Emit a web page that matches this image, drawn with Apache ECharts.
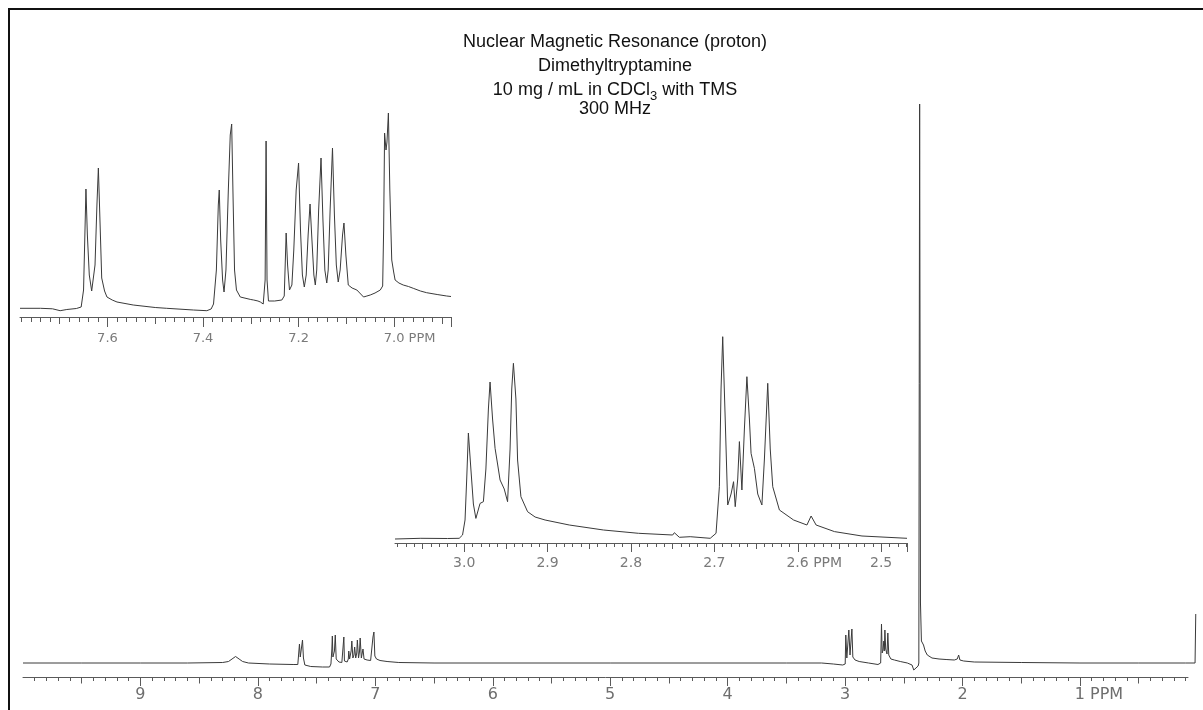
<!DOCTYPE html>
<html>
<head>
<meta charset="utf-8">
<title>Dimethyltryptamine 1H NMR</title>
<script src="https://cdn.jsdelivr.net/npm/echarts@6/dist/echarts.min.js"></script>
<style>
  html, body { margin: 0; padding: 0; background: #ffffff; }
  #chart { width: 1203px; height: 710px; }
</style>
</head>
<body>
<div id="chart"></div>
<script>
// ---- Spectrum traces: [chemical shift (ppm), intensity (a.u.)] ----

// Full spectrum, 10 - 0 ppm
const fullSpectrum = [
  [10.00, 0], [9.50, 0], [9.00, 0], [8.60, 0], [8.30, 0.5], [8.25, 1.5], [8.22, 4], [8.19, 6.5],
  [8.16, 4], [8.13, 1.5], [8.08, 0], [7.90, -1], [7.70, -1.5], [7.66, -1.5],
  [7.652, 0], [7.646, 19], [7.639, 6], [7.631, 8], [7.620, 23], [7.612, 5], [7.600, -2],
  [7.550, -3.5], [7.450, -4], [7.390, -4],
  [7.378, -1], [7.370, 14], [7.366, 27], [7.361, 6], [7.348, 12], [7.341, 28], [7.333, 4],
  [7.310, 1], [7.285, 0.5], [7.272, 2], [7.268, 26], [7.263, 2], [7.240, 1],
  [7.230, 4], [7.226, 12], [7.219, 4], [7.206, 12], [7.200, 22], [7.191, 5], [7.182, 8],
  [7.176, 16], [7.167, 5], [7.158, 10], [7.153, 23], [7.143, 5], [7.135, 11], [7.129, 25],
  [7.119, 5], [7.110, 7], [7.105, 14], [7.096, 4], [7.070, 3], [7.040, 2.5], [7.025, 3.5],
  [7.020, 26], [7.012, 31], [7.004, 7], [6.990, 4], [6.960, 2.5], [6.900, 1.5], [6.800, 0.5],
  [6.500, 0], [5.000, 0], [3.500, 0], [3.200, 0], [3.100, -1], [3.020, -2],
  [2.999, -1], [2.994, 28], [2.985, 5], [2.968, 33], [2.958, 8], [2.942, 34], [2.934, 6],
  [2.915, 3], [2.880, 1.5], [2.800, 0], [2.720, -1.5],
  [2.697, 0], [2.690, 39], [2.684, 10], [2.677, 13], [2.672, 12], [2.670, 22], [2.666, 12],
  [2.661, 33], [2.654, 14], [2.649, 16], [2.643, 9], [2.636, 30], [2.628, 8], [2.610, 4],
  [2.580, 3], [2.530, 1.5], [2.470, 0], [2.430, -2],
  [2.415, -7], [2.398, -5], [2.378, -3], [2.372, 0], [2.365, 559], [2.358, 60], [2.350, 22],
  [2.332, 18], [2.318, 12], [2.300, 8], [2.260, 5], [2.200, 4], [2.140, 3.5], [2.070, 3],
  [2.045, 4], [2.033, 8], [2.022, 3], [1.990, 2], [1.900, 1], [1.500, 0.5], [1.000, 0],
  [0.500, 0], [0.100, 0], [0.020, 0], [0.014, 49]
];

// Expanded aromatic region, 7.78 - 6.88 ppm
const aromaticSpectrum = [
  [7.783, 1.7], [7.740, 1.7], [7.715, 1.2], [7.699, -0.7], [7.685, 0.5], [7.665, 1.5], [7.655, 3],
  [7.650, 20], [7.647, 80], [7.645, 121], [7.642, 75], [7.638, 35], [7.633, 19],
  [7.630, 20], [7.626, 45], [7.622, 105], [7.619, 142], [7.616, 95], [7.612, 32],
  [7.606, 19], [7.601, 13], [7.590, 10], [7.580, 8], [7.546, 5], [7.500, 2.5], [7.476, 1.7],
  [7.420, 0], [7.392, -0.7],
  [7.383, 1], [7.378, 6], [7.372, 40], [7.368, 105], [7.366, 120], [7.363, 70], [7.359, 30],
  [7.356, 18], [7.352, 40], [7.347, 120], [7.343, 175], [7.340, 186], [7.337, 110], [7.334, 40],
  [7.330, 20], [7.322, 13], [7.300, 10.5], [7.294, 10], [7.285, 9], [7.280, 8], [7.274, 6],
  [7.270, 30], [7.268, 169], [7.266, 30], [7.263, 9], [7.250, 9], [7.235, 10],
  [7.230, 14], [7.228, 45], [7.226, 77], [7.223, 45], [7.219, 20],
  [7.214, 25], [7.210, 60], [7.205, 120], [7.200, 147], [7.196, 80], [7.192, 35], [7.188, 23],
  [7.184, 35], [7.180, 75], [7.176, 106], [7.172, 70], [7.168, 35], [7.165, 25],
  [7.162, 40], [7.158, 100], [7.153, 152], [7.149, 90], [7.145, 40], [7.141, 27],
  [7.138, 40], [7.134, 100], [7.129, 162], [7.125, 95], [7.121, 45], [7.117, 28],
  [7.113, 40], [7.108, 75], [7.105, 87], [7.101, 55], [7.096, 25], [7.088, 22], [7.078, 20],
  [7.070, 16], [7.064, 13], [7.057, 14], [7.050, 15], [7.040, 17], [7.029, 20], [7.024, 24],
  [7.022, 80], [7.020, 177], [7.017, 160], [7.015, 168], [7.012, 197], [7.009, 120],
  [7.005, 50], [7.001, 38], [6.998, 30], [6.990, 27], [6.981, 25], [6.970, 23.5],
  [6.960, 21.7], [6.945, 19], [6.932, 17.3], [6.910, 15.5], [6.890, 14], [6.881, 13.5]
];

// Expanded aliphatic region, 3.08 - 2.47 ppm
const aliphaticSpectrum = [
  [3.083, 0], [3.052, 0.7], [3.020, 0.5], [3.006, 0.7], [3.002, 4], [2.999, 19], [2.997, 60],
  [2.995, 106], [2.992, 70], [2.989, 35], [2.986, 20.6], [2.981, 35.6], [2.977, 37.3],
  [2.974, 70], [2.971, 130], [2.969, 157], [2.966, 120], [2.963, 90.7], [2.960, 75],
  [2.957, 59], [2.952, 50], [2.948, 37.3], [2.945, 90], [2.943, 150], [2.941, 175.7],
  [2.938, 140], [2.936, 79], [2.932, 42.3], [2.924, 27.3], [2.915, 22], [2.903, 19],
  [2.874, 14], [2.833, 9], [2.791, 5.7], [2.750, 4], [2.748, 6.3], [2.742, 1.7], [2.729, 2.3],
  [2.705, 0.7], [2.698, 5.7], [2.694, 52.3], [2.692, 150], [2.690, 202.3], [2.687, 120],
  [2.684, 34], [2.680, 45], [2.677, 57.3], [2.675, 32.3], [2.672, 60], [2.670, 97.4],
  [2.667, 49], [2.664, 110], [2.661, 162.3], [2.658, 120], [2.656, 85.7], [2.652, 70.7],
  [2.648, 45], [2.643, 34], [2.640, 80], [2.636, 155.7], [2.633, 90], [2.630, 52.3],
  [2.622, 29], [2.605, 19], [2.589, 14], [2.584, 23], [2.578, 14], [2.556, 7.4],
  [2.523, 3], [2.469, 0.7]
];

// ---- Axis tick labels (ppm) ----
const fullTickLabels = [9, 8, 7, 6, 5, 4, 3, 2, 1];
const aromaticTickLabels = [7.6, 7.4, 7.2, 7.0];
const aliphaticTickLabels = [3.0, 2.9, 2.8, 2.7, 2.6, 2.5];

// ---- Title block ----
const titleLines = [
  'Nuclear Magnetic Resonance (proton)',
  'Dimethyltryptamine',
  '{t|10 mg / mL in CDCl}{s|3}{t| with TMS}',
  '300 MHz'
];

// Evenly spaced tick positions for the ruler-style scales
function ticks(from, to, step) {
  const out = [];
  const n = Math.round((to - from) / step);
  for (let i = 0; i <= n; i++) out.push(Math.round((from + i * step) * 1000) / 1000);
  return out;
}

const LINE = '#3a3a3a';
const AXIS = '#5a5a5a';
const FONT = '"DejaVu Sans", "Liberation Sans", sans-serif';
const TITLE_FONT = '"Liberation Sans", Arial, sans-serif';
const TITLE_X = 615;
const TITLE_INK = '#111111';

// Three stacked x axes per panel: labelled major ticks, half-step ticks, fine ticks
function rulerAxes(grid, min, max, major, majorTicks, medium, minor, lens, label) {
  const base = {
    gridIndex: grid, type: 'value', min: min, max: max, inverse: true, position: 'bottom',
    splitLine: { show: false }, axisPointer: { show: false }
  };
  return [
    Object.assign({}, base, {
      axisLine: { show: true, onZero: false, lineStyle: { color: AXIS, width: 1 } },
      axisTick: { show: true, customValues: majorTicks, length: lens[0], lineStyle: { color: AXIS, width: 1 } },
      axisLabel: Object.assign({ customValues: major, showMinLabel: true, showMaxLabel: true }, label)
    }),
    Object.assign({}, base, {
      axisLine: { show: false, onZero: false },
      axisTick: { show: true, customValues: medium, length: lens[1], lineStyle: { color: AXIS, width: 1 } },
      axisLabel: { show: false }
    }),
    Object.assign({}, base, {
      axisLine: { show: false, onZero: false },
      axisTick: { show: true, customValues: minor, length: lens[2], lineStyle: { color: AXIS, width: 1 } },
      axisLabel: { show: false }
    })
  ];
}

function ppmLabel(fontSize, color, margin, unitAt, digits, padWidth) {
  return {
    margin: margin,
    color: color,
    fontFamily: FONT,
    fontSize: fontSize,
    formatter: function (v) {
      const s = digits ? Number(v).toFixed(digits) : String(Math.round(v));
      return Math.abs(v - unitAt) < 1e-6 ? '{pad| }{n|' + s + '}{u| PPM}' : '{n|' + s + '}';
    },
    rich: {
      n: { fontSize: fontSize, color: color, fontFamily: FONT },
      u: { fontSize: fontSize, color: color, fontFamily: FONT },
      pad: { width: padWidth, fontSize: fontSize }
    }
  };
}

const xAxes = [].concat(
  // axis 0: plotting scale of the full spectrum (runs out to 0 ppm so the TMS line shows)
  [{ gridIndex: 0, type: 'value', min: 0, max: 10, inverse: true, show: false }],
  // axes 1-3: ruler under the full spectrum
  rulerAxes(3, 0.08, 10, fullTickLabels, fullTickLabels,
    ticks(0.5, 9.5, 1), ticks(0.1, 9.9, 0.1), [9, 6.5, 4],
    ppmLabel(16, '#6e6e6e', 10, 1, 0, 38)),
  // axes 4-6: aromatic expansion
  rulerAxes(1, 6.881, 7.783, aromaticTickLabels, aromaticTickLabels.concat([6.881]),
    ticks(6.9, 7.7, 0.2), ticks(6.90, 7.78, 0.02), [10, 7, 5],
    ppmLabel(13, '#7a7a7a', 15, 7.0, 1, 31)),
  // axes 7-9: aliphatic expansion
  rulerAxes(2, 2.469, 3.083, aliphaticTickLabels, aliphaticTickLabels.concat([2.469]),
    ticks(2.55, 3.05, 0.1), ticks(2.47, 3.08, 0.01), [9, 6, 4],
    ppmLabel(14, '#7a7a7a', 13, 2.6, 1, 33))
);

const chart = echarts.init(document.getElementById('chart'), null, { renderer: 'canvas' });

chart.setOption({
  animation: false,
  backgroundColor: '#ffffff',
  grid: [
    { left: 23, right: 5.6, top: 93, bottom: 33 },    // full spectrum trace
    { left: 20, right: 752, top: 110, bottom: 393 },  // aromatic expansion
    { left: 395, right: 296, top: 329, bottom: 167 }, // aliphatic expansion
    { left: 23, right: 15, top: 93, bottom: 33 }      // ruler of the full spectrum
  ],
  xAxis: xAxes,
  yAxis: [
    { gridIndex: 0, type: 'value', min: -14, max: 570, show: false },
    { gridIndex: 1, type: 'value', min: -7, max: 200, show: false },
    { gridIndex: 2, type: 'value', min: -4, max: 210, show: false },
    { gridIndex: 3, type: 'value', min: -14, max: 570, show: false }
  ],
  series: [
    {
      name: 'full', type: 'line', xAxisIndex: 0, yAxisIndex: 0, data: fullSpectrum,
      showSymbol: false, sampling: null,
      lineStyle: { color: LINE, width: 1 }, silent: true
    },
    {
      name: 'aromatic', type: 'line', xAxisIndex: 4, yAxisIndex: 1, data: aromaticSpectrum,
      showSymbol: false, lineStyle: { color: LINE, width: 1 }, silent: true
    },
    {
      name: 'aliphatic', type: 'line', xAxisIndex: 7, yAxisIndex: 2, data: aliphaticSpectrum,
      showSymbol: false, lineStyle: { color: LINE, width: 1 }, silent: true
    }
  ],
  graphic: [
    {
      type: 'rect', silent: true,
      shape: { x: 9, y: 9, width: 1400, height: 900 },
      style: { fill: 'none', stroke: '#111111', lineWidth: 2 }
    },
    {
      type: 'text', x: TITLE_X, y: 42, silent: true,
      style: { text: titleLines[0], font: '18px ' + TITLE_FONT, fill: TITLE_INK, align: 'center', verticalAlign: 'middle' }
    },
    {
      type: 'text', x: TITLE_X, y: 66, silent: true,
      style: { text: titleLines[1], font: '18px ' + TITLE_FONT, fill: TITLE_INK, align: 'center', verticalAlign: 'middle' }
    },
    {
      type: 'text', x: TITLE_X, y: 90, silent: true,
      style: {
        text: titleLines[2], align: 'center', verticalAlign: 'middle',
        rich: {
          t: { fontSize: 18, fontFamily: TITLE_FONT, fill: TITLE_INK, lineHeight: 25 },
          s: { fontSize: 13, fontFamily: TITLE_FONT, fill: TITLE_INK, lineHeight: 25, verticalAlign: 'bottom' }
        }
      }
    },
    {
      type: 'text', x: TITLE_X, y: 109, silent: true,
      style: { text: titleLines[3], font: '18px ' + TITLE_FONT, fill: TITLE_INK, align: 'center', verticalAlign: 'middle' }
    }
  ]
});
</script>
</body>
</html>
